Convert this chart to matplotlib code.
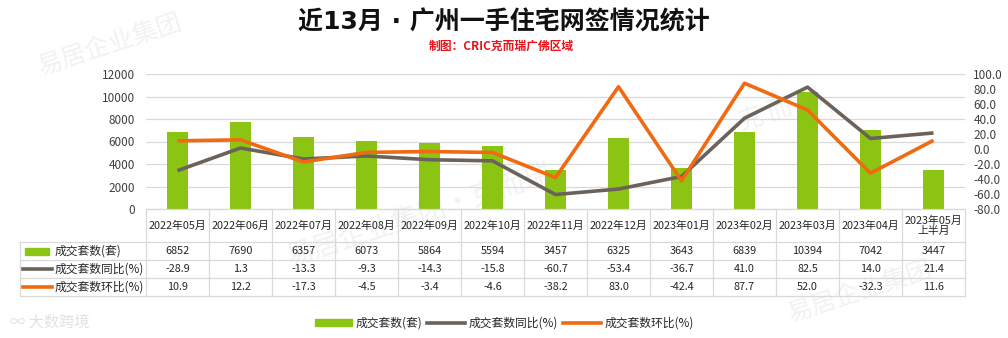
import matplotlib
matplotlib.use("Agg")
import matplotlib.pyplot as plt
import numpy as np
from matplotlib.lines import Line2D
from matplotlib.patches import Rectangle

plt.rcParams['font.family'] = ['Noto Sans CJK SC', 'DejaVu Sans']

months = ["2022年05月", "2022年06月", "2022年07月", "2022年08月", "2022年09月",
          "2022年10月", "2022年11月", "2022年12月", "2023年01月", "2023年02月",
          "2023年03月", "2023年04月", "2023年05月\n上半月"]
units = [6852, 7690, 6357, 6073, 5864, 5594, 3457, 6325, 3643, 6839, 10394, 7042, 3447]
yoy = [-28.9, 1.3, -13.3, -9.3, -14.3, -15.8, -60.7, -53.4, -36.7, 41.0, 82.5, 14.0, 21.4]
mom = [10.9, 12.2, -17.3, -4.5, -3.4, -4.6, -38.2, 83.0, -42.4, 87.7, 52.0, -32.3, 11.6]

series_names = ["成交套数(套)", "成交套数同比(%)", "成交套数环比(%)"]
GREEN = "#8cc414"
GRAY = "#6b635b"
ORANGE = "#f26a10"
GRID = "#d9d9d9"
TXT = "#404040"

W, H = 1008, 338
fig = plt.figure(figsize=(W / 100, H / 100), dpi=100)

def fx(px):
    return px / W

def fy(py):
    return 1 - py / H

# faint watermarks
for (x, y, s, fs) in [(110, 45, "易居企业集团", 18), (420, 215, "易居企业集团·克而瑞", 20),
                      (780, 110, "克 而 瑞", 18), (860, 292, "易居企业集团", 18)]:
    fig.text(fx(x), fy(y), s, fontsize=fs, color="#f2f2f2", rotation=18,
             ha="center", va="center", zorder=-5)
fig.text(fx(10), fy(322), "∞ 大数跨境", fontsize=11, color="#e2e2e2",
         ha="left", va="center", zorder=-5)

# title
fig.text(0.5, fy(22), "近13月 · 广州一手住宅网签情况统计", fontsize=18, fontweight="bold",
         color="#111111", ha="center", va="center",
         family=['DejaVu Sans', 'Noto Sans CJK SC'])
fig.text(0.497, fy(46), "制图：CRIC克而瑞广佛区域", fontsize=8.5, fontweight="bold",
         color="#e8141c", ha="center", va="center")

# chart area
L, R, T, B = 146, 965, 74, 209
ax = fig.add_axes([fx(L), fy(B), fx(R - L), fy(T) - fy(B)])
x = np.arange(len(months))
ax.bar(x, units, width=0.32, color=GREEN, zorder=2)
ax.set_xlim(-0.5, len(months) - 0.5)
ax.set_ylim(0, 12000)
ax.set_yticks(np.arange(0, 12001, 2000))
ax.yaxis.grid(True, color=GRID, lw=0.9, zorder=0)
ax.set_xticks([])
for s in ax.spines.values():
    s.set_visible(False)
ax.tick_params(axis="y", length=0, labelsize=8.5, labelcolor=TXT, pad=8)
ax.patch.set_alpha(0)

ax2 = ax.twinx()
ax2.plot(x, yoy, color=GRAY, lw=2.6, zorder=3, solid_capstyle="butt")
ax2.plot(x, mom, color=ORANGE, lw=2.6, zorder=4, solid_capstyle="butt")
ax2.set_ylim(-80, 100)
ax2.set_yticks(np.arange(-80, 101, 20))
ax2.set_yticklabels([f"{v:.1f}" for v in np.arange(-80, 101, 20)])
for s in ax2.spines.values():
    s.set_visible(False)
ax2.tick_params(axis="y", length=0, labelsize=8.5, labelcolor=TXT, pad=6)

# data table under the chart
TB = 296
tax = fig.add_axes([fx(L), fy(TB), fx(R - L), fy(B) - fy(TB)])
tax.set_xlim(-0.5, len(months) - 0.5)
tax.set_ylim(TB, B)
tax.axis("off")
rows = [B, 242, 260, 278, TB]
px_unit = (R - L) / len(months)

def dx(px):
    return -0.5 + (px - L) / px_unit

left_edge = dx(20)
lk = dict(color=GRID, lw=0.9, clip_on=False)
tax.plot([-0.5, len(months) - 0.5], [B, B], **lk)
for r in rows[1:]:
    tax.plot([left_edge, len(months) - 0.5], [r, r], **lk)
for i in range(len(months) + 1):
    tax.plot([i - 0.5, i - 0.5], [B, TB], **lk)
tax.plot([left_edge, left_edge], [242, TB], **lk)

for i, m in enumerate(months):
    tax.text(i, (B + 242) / 2, m, ha="center", va="center", fontsize=7.8,
             color="#262626", linespacing=1.0, clip_on=False)
    for j, vals in enumerate([units, yoy, mom]):
        yc = (rows[j + 1] + rows[j + 2]) / 2
        txt = f"{vals[i]}" if j == 0 else f"{vals[i]:.1f}"
        tax.text(i, yc, txt, ha="center", va="center", fontsize=7.8,
                 color="#262626", clip_on=False)

labels_y = [(rows[k] + rows[k + 1]) / 2 for k in (1, 2, 3)]
tax.add_patch(Rectangle((dx(25), labels_y[0] - 3.5), dx(49) - dx(25), 7,
                        color=GREEN, clip_on=False))
tax.plot([dx(23), dx(52)], [labels_y[1]] * 2, color=GRAY, lw=2.6, clip_on=False)
tax.plot([dx(23), dx(52)], [labels_y[2]] * 2, color=ORANGE, lw=2.6, clip_on=False)
for k, name in enumerate(series_names):
    tax.text(dx(55), labels_y[k], name, ha="left", va="center", fontsize=8.5,
             color="#262626", clip_on=False)

# legend
handles = [Rectangle((0, 0), 1, 1, color=GREEN),
           Line2D([0], [0], color=GRAY, lw=2.6),
           Line2D([0], [0], color=ORANGE, lw=2.6)]
fig.legend(handles, series_names, loc="center", bbox_to_anchor=(0.5, fy(323)),
           ncol=3, frameon=False, fontsize=8.5, handlelength=3.2, handleheight=0.5,
           handletextpad=0.3, columnspacing=0.4, labelcolor="#262626")

fig.savefig("out.png", dpi=100, facecolor="white")
